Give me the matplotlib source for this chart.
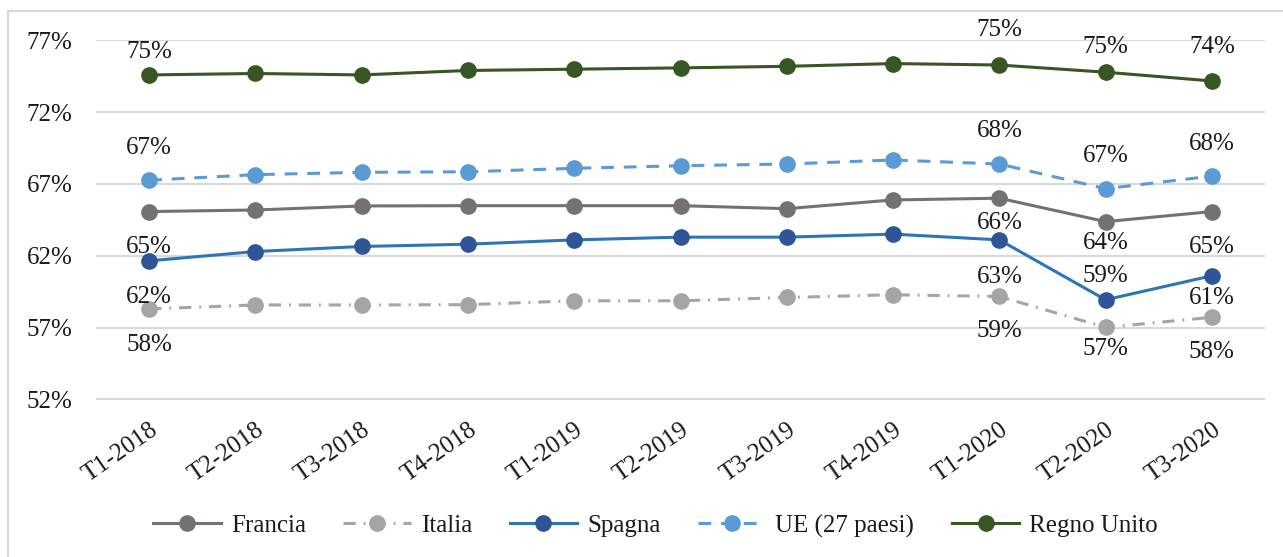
import matplotlib
matplotlib.use("Agg")
import matplotlib.pyplot as plt
from matplotlib.patches import Rectangle

plt.rcParams['font.family'] = ['Liberation Serif', 'DejaVu Serif']

categories = ["T1-2018", "T2-2018", "T3-2018", "T4-2018", "T1-2019", "T2-2019",
              "T3-2019", "T4-2019", "T1-2020", "T2-2020", "T3-2020"]

francia = [65.08, 65.19, 65.47, 65.49, 65.49, 65.49, 65.28, 65.89, 66.01, 64.38, 65.08]
italia = [58.30, 58.58, 58.58, 58.60, 58.87, 58.87, 59.10, 59.29, 59.17, 57.02, 57.72]
spagna = [61.65, 62.30, 62.65, 62.81, 63.11, 63.30, 63.30, 63.51, 63.11, 58.94, 60.61]
ue27 = [67.26, 67.65, 67.81, 67.85, 68.09, 68.27, 68.39, 68.67, 68.39, 66.67, 67.55]
regno_unito = [74.59, 74.69, 74.59, 74.90, 74.99, 75.08, 75.19, 75.38, 75.28, 74.78, 74.17]

yticks = [52, 57, 62, 67, 72, 77]

# indices of labelled points and label offsets (pixels, positive = up)
label_idx = [0, 8, 9, 10]

series = [
    dict(name="Francia", data=francia, color="#767171", mcolor="#767171", ls="-",
         offs=[-35, -25, -21, -35]),
    dict(name="Italia", data=italia, color="#A5A5A5", mcolor="#A5A5A5", ls=(0, (4, 2.6, 0.6, 2.6)),
         offs=[-36, -35, -22, -35]),
    dict(name="Spagna", data=spagna, color="#2E75B6", mcolor="#2F5597", ls="-",
         offs=[-36, -37, 24, -22]),
    dict(name="UE (27 paesi)", data=ue27, color="#5B9BD5", mcolor="#5B9BD5", ls=(0, (4.2, 3.2)),
         offs=[32, 33, 33, 32]),
    dict(name="Regno Unito", data=regno_unito, color="#375623", mcolor="#375623", ls="-",
         offs=[23, 35, 25, 34]),
]

FS = 18
fig = plt.figure(figsize=(12.83, 5.57), dpi=100)
W, H = 1283, 557
ax = fig.add_axes([96 / W, 1 - 399.5 / H, (1265 - 96) / W, (399.5 - 40.3) / H])

x = list(range(len(categories)))
for s in series:
    ax.plot(x, s["data"], color=s["color"], lw=2.2, ls=s["ls"], marker="o",
            markersize=11, markerfacecolor=s["mcolor"], markeredgecolor=s["mcolor"],
            label=s["name"], zorder=3, clip_on=False)
    for i, off in zip(label_idx, s["offs"]):
        v = s["data"][i]
        ax.annotate(f"{round(v)}%", (i, v), xytext=(0, off), textcoords="offset pixels",
                    ha="center", va="center", fontsize=FS, color="#1a1a1a",
                    annotation_clip=False, zorder=4)

ax.set_xlim(-0.5, len(categories) - 0.5)
ax.set_ylim(52, 77)
ax.set_yticks(yticks)
ax.set_yticklabels([f"{t}%" for t in yticks], fontsize=FS, color="#1a1a1a")
ax.grid(axis="y", color="#d9d9d9", lw=1.5, zorder=0)
ax.set_axisbelow(True)
ax.tick_params(axis="y", length=0, pad=17)
ax.tick_params(axis="x", length=0, pad=14)
ax.set_xticks(x)
ax.set_xticklabels(categories, fontsize=FS, color="#1a1a1a", rotation=35,
                   ha="right", rotation_mode="anchor")
for sp in ax.spines.values():
    sp.set_visible(False)

leg = fig.legend(loc="center", bbox_to_anchor=(0.511, 1 - 526 / H), ncol=5, frameon=False,
                 fontsize=FS, handlelength=2.7, handletextpad=0.4, columnspacing=1.5,
                 numpoints=1)
for t in leg.get_texts():
    t.set_color("#1a1a1a")

fig.patches.append(Rectangle((8 / W, -0.05), 1.1, 1.05 - 11 / H, transform=fig.transFigure,
                             fill=False, edgecolor="#d9d9d9", lw=1.5, zorder=0))

fig.savefig("out.png", dpi=100)
